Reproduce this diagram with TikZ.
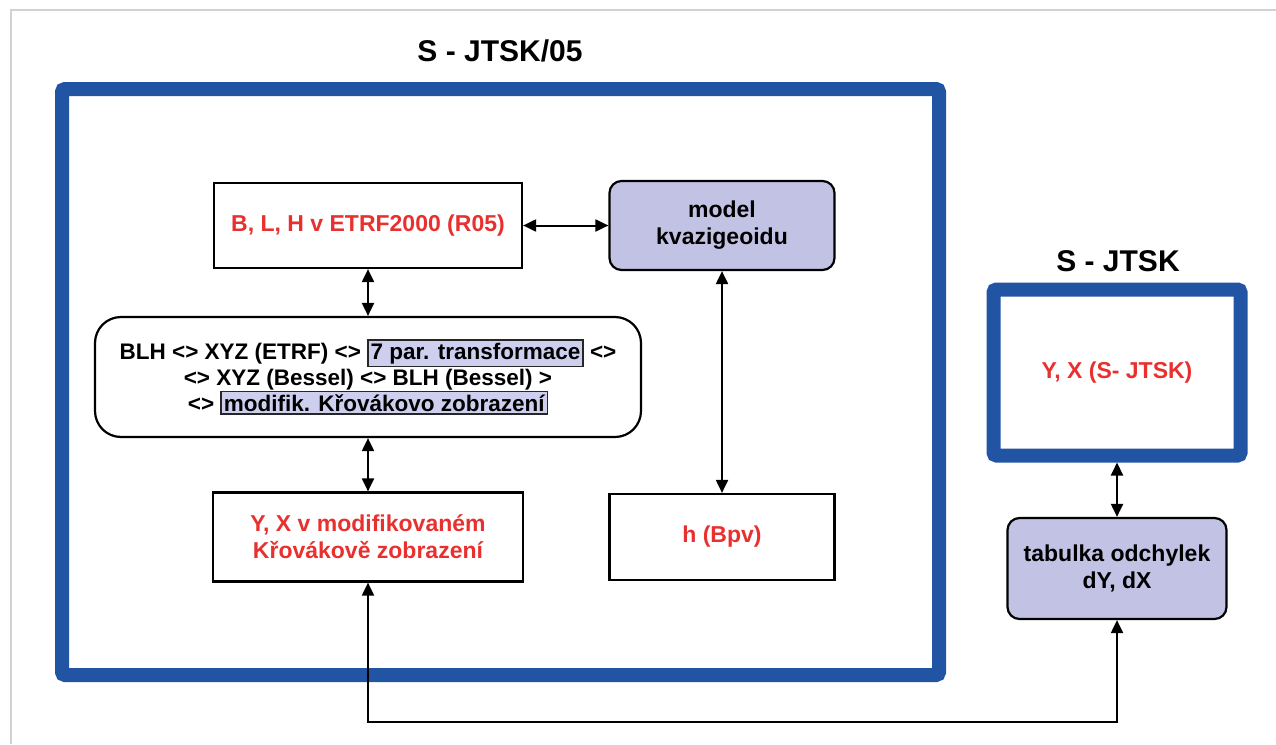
\documentclass[tikz,border=0pt]{standalone}
\usepackage{fontspec}
\setmainfont{Liberation Sans}
\usetikzlibrary{arrows.meta}
\definecolor{jtskblue}{RGB}{34,84,164}
\definecolor{coordred}{RGB}{232,48,47}
\definecolor{lilac}{RGB}{194,194,228}
\definecolor{lilaclight}{RGB}{206,206,238}
\newcommand{\tagbox}[1]{{\setlength{\fboxsep}{2pt}\setlength{\fboxrule}{1.4pt}\fcolorbox{black!85}{lilaclight}{#1}}}

\begin{document}
\begin{tikzpicture}[x=1pt,y=-1pt,
    every node/.style={font=\fontsize{23}{27}\selectfont\bfseries, align=center},
    coord/.style={draw, line width=2.2pt, text=coordred},
    model/.style={draw, line width=2.2pt, fill=lilac, rounded corners=12pt},
    frame/.style={draw=jtskblue, line width=14pt, rounded corners=3pt},
    title/.style={font=\fontsize{30}{36}\selectfont\bfseries},
    link/.style={line width=2pt, {Triangle[length=13pt,width=12pt]}-{Triangle[length=13pt,width=12pt]}}]
    \useasboundingbox (0,0) rectangle (1276,744);
    \draw[gray!35, line width=2pt] (10.5,744) -- (10.5,9.5) -- (1276,9.5);

    % S-JTSK/05 part
    \node[title] (t05) at (500,51) {S - JTSK/05};
    \draw[frame] (62,89) rectangle (939,675);
    \node[coord, minimum width=308pt, minimum height=85pt] (blh) at (368,225.5) {B, L, H v ETRF2000 (R05)};
    \node[model, minimum width=225pt, minimum height=89pt] (geoid) at (722,225.5) {model\\kvazigeoidu};
    \node[draw, line width=2.2pt, rounded corners=26pt, minimum width=546pt, minimum height=120pt,
          font=\fontsize{22.5}{26}\selectfont\bfseries] (chain) at (368,377)
        {BLH <> XYZ (ETRF) <> \tagbox{7 par. transformace} <>\\
         <> XYZ (Bessel) <> BLH (Bessel) >\\
         <> \tagbox{modifik. Křovákovo zobrazení}};
    \node[coord, minimum width=310pt, minimum height=89pt] (yx) at (368,537) {Y, X v modifikovaném\\Křovákově zobrazení};
    \node[coord, minimum width=225pt, minimum height=86pt] (bpv) at (722,537) {h (Bpv)};

    % S-JTSK part
    \node[title] (tjtsk) at (1118,261) {S - JTSK};
    \node[frame, text=coordred, minimum width=247pt, minimum height=166pt] (jtsk) at (1117,372.5) {Y, X (S- JTSK)};
    \node[model, minimum width=219pt, minimum height=101pt] (table) at (1117,568.5) {tabulka odchylek\\dY, dX};

    \draw[link] (blh) -- (geoid);
    \draw[link] (blh) -- (chain);
    \draw[link] (chain) -- (yx);
    \draw[link] (geoid) -- (bpv);
    \draw[link] (jtsk) -- (table);
    \coordinate (bend) at (1117,722);
    \draw[link] (table.south) -- (bend) -| (yx.south);
\end{tikzpicture}
\end{document}
